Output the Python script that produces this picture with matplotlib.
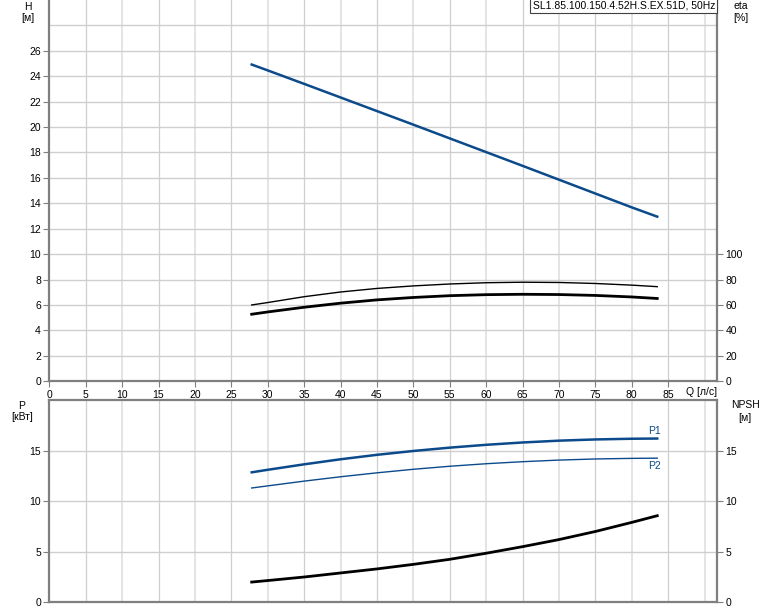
import matplotlib.pyplot as plt
import numpy as np

plt.rcParams['font.family'] = ['Liberation Sans', 'DejaVu Sans']

q = [27.8, 30, 35, 40, 45, 50, 55, 60, 65, 70, 75, 80, 83.5]
head = [24.92, 24.46, 23.4, 22.33, 21.26, 20.19, 19.11, 18.03, 16.95, 15.86, 14.77, 13.68, 12.95]
eta_pump = [60.0, 61.9, 66.5, 70.2, 73.0, 75.0, 76.5, 77.5, 77.9, 77.7, 76.9, 75.6, 74.4]
eta_total = [52.7, 54.5, 58.2, 61.4, 64.0, 65.9, 67.3, 68.1, 68.4, 68.2, 67.5, 66.3, 65.1]
p1 = [12.85, 13.1, 13.64, 14.14, 14.58, 14.96, 15.29, 15.57, 15.8, 15.98, 16.1, 16.17, 16.19]
p2 = [11.3, 11.51, 11.98, 12.41, 12.8, 13.15, 13.45, 13.7, 13.9, 14.06, 14.17, 14.23, 14.25]
npsh = [2.0, 2.15, 2.5, 2.9, 3.3, 3.75, 4.25, 4.85, 5.5, 6.2, 7.0, 7.9, 8.56]

x_ticks = list(range(0, 90, 5))
h_ticks = list(range(0, 28, 2))
eta_ticks = list(range(0, 120, 20))
p_ticks = [0, 5, 10, 15]

blue = '#0b4a8b'
grid_dark = '#cfcfcf'
grid_light = '#e2e2e2'
spine_col = '#7f7f7f'
fs = 7.5

fig = plt.figure(figsize=(7.74, 6.11), dpi=100)
W, H = 774, 611
ax1 = fig.add_axes([49.3 / W, (H - 381.2) / H, 668 / W, 381.2 / H])
ax2 = fig.add_axes([49.3 / W, (H - 602.3) / H, 668 / W, 202.3 / H])

xmax = 91.75


def grid(ax, ystep, ymax):
    for v in range(5, 95, 5):
        if v < xmax:
            ax.axvline(v, color=grid_light if v % 10 == 0 else grid_dark,
                       lw=1.3 if v % 10 == 0 else 0.9, zorder=0)
    for v in np.arange(ystep, ymax, ystep):
        ax.axhline(v, color=grid_dark, lw=1.0, zorder=0)


for ax in (ax1, ax2):
    ax.set_xlim(0, xmax)
    for s in ax.spines.values():
        s.set_color(spine_col)
        s.set_linewidth(1.6)
    ax.tick_params(colors=spine_col, labelcolor='black', labelsize=fs,
                   length=4, width=0.8, pad=2)

# top panel
ax1.set_ylim(0, 30)
grid(ax1, 2, 30)
ax1.spines['top'].set_visible(False)
ax1.set_xticks(x_ticks)
ax1.set_xticklabels([str(v) for v in x_ticks])
ax1.set_yticks(h_ticks)
ax1.plot(q, head, color=blue, lw=1.8, zorder=3, solid_joinstyle='round')

ax1r = ax1.twinx()
ax1r.set_ylim(0, 300)
ax1r.set_yticks(eta_ticks)
for s in ax1r.spines.values():
    s.set_visible(False)
ax1r.tick_params(colors=spine_col, labelcolor='black', labelsize=fs,
                 length=4, width=0.8, pad=2)
ax1r.plot(q, eta_pump, color='black', lw=1.0, zorder=3, solid_joinstyle='round')
ax1r.plot(q, eta_total, color='black', lw=2.0, zorder=3, solid_joinstyle='round')

ax1.text(0.9964, 0.998, 'SL1.85.100.150.4.52H.S.EX.51D, 50Hz', transform=ax1.transAxes,
         ha='right', va='top', fontsize=fs,
         bbox=dict(boxstyle='square,pad=0.25', fc='white', ec='#404040', lw=0.8))

fig.text(28 / W, 1 - 7 / H, 'H', ha='center', va='center', fontsize=fs)
fig.text(28 / W, 1 - 18 / H, '[м]', ha='center', va='center', fontsize=fs)
fig.text(741 / W, 1 - 6 / H, 'eta', ha='center', va='center', fontsize=fs)
fig.text(741 / W, 1 - 18 / H, '[%]', ha='center', va='center', fontsize=fs)
fig.text(686 / W, 1 - 392 / H, 'Q [л/с]', ha='left', va='center', fontsize=fs)

# bottom panel
ax2.set_ylim(0, 20)
grid(ax2, 5, 20)
ax2.set_xticks(x_ticks)
ax2.tick_params(axis='x', labelbottom=False, length=0)
ax2.set_yticks(p_ticks)
ax2.plot(q, p1, color=blue, lw=1.8, zorder=3, solid_joinstyle='round')
ax2.plot(q, p2, color=blue, lw=1.0, zorder=3, solid_joinstyle='round')
ax2.plot(q, npsh, color='black', lw=2.0, zorder=3, solid_joinstyle='round')
ax2.text(q[-1] - 0.4, p1[-1] + 0.25, 'P1', color=blue, fontsize=fs, ha='center', va='bottom')
ax2.text(q[-1] - 0.4, p2[-1] - 0.3, 'P2', color=blue, fontsize=fs, ha='center', va='top')

ax2r = ax2.twinx()
ax2r.set_ylim(0, 20)
ax2r.set_yticks(p_ticks)
for s in ax2r.spines.values():
    s.set_visible(False)
ax2r.tick_params(colors=spine_col, labelcolor='black', labelsize=fs,
                 length=4, width=0.8, pad=2)

fig.text(22 / W, 1 - 406 / H, 'P', ha='center', va='center', fontsize=fs)
fig.text(22 / W, 1 - 417 / H, '[кВт]', ha='center', va='center', fontsize=fs)
fig.text(745 / W, 1 - 405 / H, 'NPSH', ha='center', va='center', fontsize=fs)
fig.text(745 / W, 1 - 418 / H, '[м]', ha='center', va='center', fontsize=fs)

fig.savefig('out.png', dpi=100)
